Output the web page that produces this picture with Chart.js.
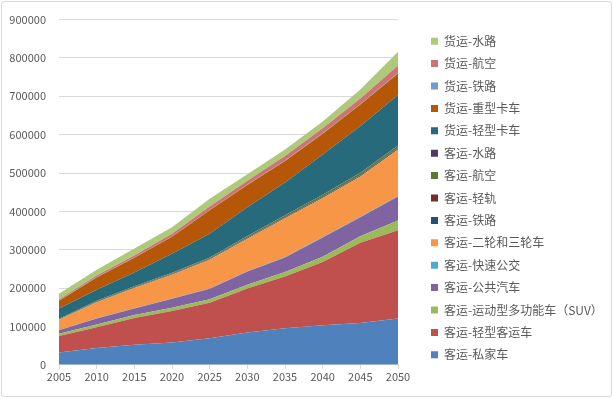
<!DOCTYPE html>
<html>
<head>
<meta charset="utf-8">
<script src="https://cdn.jsdelivr.net/npm/chart.js@4.4.0/dist/chart.umd.min.js"></script>
<style>
  html, body { margin: 0; padding: 0; background: #fff; }
  #wrap { position: relative; width: 613px; height: 399px; }
  #frame { position: absolute; left: 1px; top: 1px; width: 609px; height: 394px; border: 1px solid #d9d9d9; border-radius: 3px; }
  canvas { position: absolute; left: 0; top: 0; }
</style>
</head>
<body>
<div id="wrap">
  <div id="frame"></div>
  <canvas id="myChart" width="613" height="399"></canvas>
</div>
<script>
var years = ["2005", "2010", "2015", "2020", "2025", "2030", "2035", "2040", "2045", "2050"];

// 客运 (passenger)
var privateCar = [32000, 44000, 52000, 58000, 69000, 84000, 95000, 103000, 109000, 121000];
var lightPassenger = [43000, 54000, 70000, 82000, 93000, 115000, 135000, 165000, 209000, 230000];
var suv = [6000, 7000, 8000, 9000, 9000, 10000, 12000, 14000, 17000, 25000];
var bus = [9000, 16000, 17000, 23000, 27000, 34000, 38000, 50000, 50000, 63000];
var brt = [300, 400, 500, 600, 700, 800, 900, 1000, 1100, 1200];
var twoWheel = [27000, 42000, 53000, 62000, 75000, 85000, 101000, 102000, 105000, 121000];
var railPass = [800, 1000, 1200, 1400, 1600, 1800, 2000, 2200, 2400, 2600];
var lightRail = [200, 300, 400, 500, 600, 700, 800, 900, 1000, 1200];
var airPass = [1500, 2000, 2500, 3000, 3500, 4000, 4500, 5000, 5500, 6000];
var waterPass = [200, 200, 300, 300, 300, 400, 400, 400, 500, 500];
// 货运 (freight)
var lightTruck = [27000, 29000, 36000, 50000, 62000, 75000, 86000, 105000, 122000, 132000];
var heavyTruck = [20000, 32000, 38000, 44000, 61000, 58000, 56000, 54000, 56000, 56000];
var railFreight = [1000, 1000, 1000, 1000, 1000, 1000, 1000, 1000, 1000, 1000];
var airFreight = [3000, 4000, 5000, 7000, 9000, 10000, 12000, 13000, 15000, 20000];
var waterFreight = [14000, 15000, 18000, 17000, 20000, 17000, 17000, 18000, 23000, 36000];

var seriesNames = ["客运-私家车", "客运-轻型客运车", "客运-运动型多功能车（SUV）", "客运-公共汽车",
  "客运-快速公交", "客运-二轮和三轮车", "客运-铁路", "客运-轻轨", "客运-航空", "客运-水路",
  "货运-轻型卡车", "货运-重型卡车", "货运-铁路", "货运-航空", "货运-水路"];
var seriesData = [privateCar, lightPassenger, suv, bus, brt, twoWheel, railPass, lightRail,
  airPass, waterPass, lightTruck, heavyTruck, railFreight, airFreight, waterFreight];
var colors = ["#4F81BD", "#C0504D", "#9BBB59", "#8064A2", "#4BACC6", "#F79646", "#2C4D75", "#772C2A",
  "#5F7530", "#4D3B62", "#276A7C", "#B65708", "#729ACA", "#CD7371", "#AFC97A"];

var font = "'Noto Sans CJK SC', 'Noto Sans', sans-serif";

var datasets = seriesNames.map(function (name, i) {
  return {
    label: name,
    data: seriesData[i],
    backgroundColor: colors[i],
    borderColor: colors[i],
    borderWidth: 0,
    pointRadius: 0,
    fill: i === 0 ? "origin" : "-1"
  };
});

// push the legend a little away from the plot, like the original
var legendShift = {
  id: "legendShift",
  afterLayout: function (chart) {
    var lg = chart.legend;
    var w = lg.width;
    lg.left = 420.6;
    lg.right = lg.left + w;
    lg.top += 2.5;
    lg.bottom += 2.5;
  }
};

new Chart("myChart", {
  type: "line",
  data: { labels: years, datasets: datasets },
  plugins: [legendShift],
  options: {
    responsive: false,
    animation: false,
    layout: { padding: { left: 0, top: 7, right: 0, bottom: 15 } },
    plugins: {
      tooltip: { enabled: false },
      legend: {
        position: "right",
        reverse: true,
        maxWidth: 260,
        labels: {
          boxWidth: 7,
          boxHeight: 7,
          padding: 10.4,
          color: "#595959",
          font: { family: font, size: 12 }
        }
      }
    },
    scales: {
      x: {
        offset: false,
        grid: { drawOnChartArea: false, drawTicks: true, tickLength: 4, color: "#d9d9d9" },
        border: { color: "#d9d9d9" },
        ticks: { color: "#595959", font: { family: font, size: 11 }, maxRotation: 0, padding: 1 },
        afterFit: function (axis) { axis.paddingRight = 215; }
      },
      y: {
        stacked: true,
        min: 0,
        max: 900000,
        grid: { color: "#d9d9d9", drawTicks: false },
        border: { display: false },
        ticks: {
          stepSize: 100000, color: "#595959", font: { family: font, size: 11 }, padding: 13,
          callback: function (v) { return String(v); }
        },
        afterFit: function (axis) { axis.width = 59; }
      }
    }
  }
});
</script>
</body>
</html>
